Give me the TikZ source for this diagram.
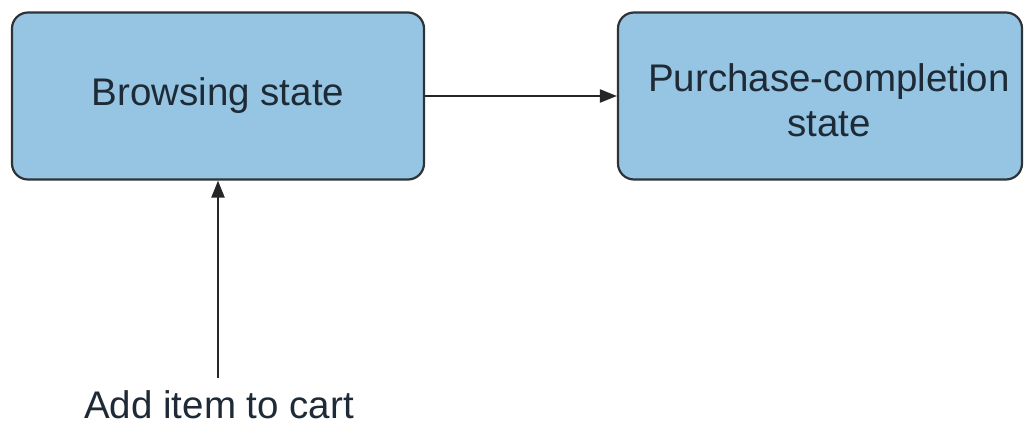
\documentclass[tikz,border=0pt]{standalone}
\usepackage{fontspec}
\setmainfont{Liberation Sans}
\usetikzlibrary{arrows.meta}
\definecolor{statefill}{HTML}{95C5E2}
\definecolor{edgegray}{HTML}{2E3338}
\definecolor{inktext}{HTML}{1E2A36}
\begin{document}
\begin{tikzpicture}[x=1pt,y=-1pt,
  statebox/.style={draw=edgegray, line width=2.2pt, fill=statefill,
    rounded corners=16pt, minimum width=412pt, minimum height=167pt,
    align=center, inner sep=0pt, font=\fontsize{38.5}{45}\selectfont, text=inktext},
  link/.style={draw=black!85, line width=2.2pt, -{Triangle[length=17pt,width=13pt]}},
  label/.style={font=\fontsize{38.5}{45}\selectfont, text=inktext, inner sep=0pt, align=center}]
  \useasboundingbox (0,0) rectangle (1034,426);
  \node[statebox] (browse) at (218,96) {Browsing state};
  \node[statebox, minimum width=404pt] (purchase) at (820,96) {};
  \node[label] (purchaseText) at (829,100) {Purchase-completion\\state};
  \node[label, anchor=base] (cart) at (219,418) {Add item to cart};
  \coordinate (cartTop) at (218,378);
  \draw[link] (browse.east) -- (purchase.west);
  \draw[link] (cartTop) -- (browse.south -| cartTop);
\end{tikzpicture}
\end{document}
